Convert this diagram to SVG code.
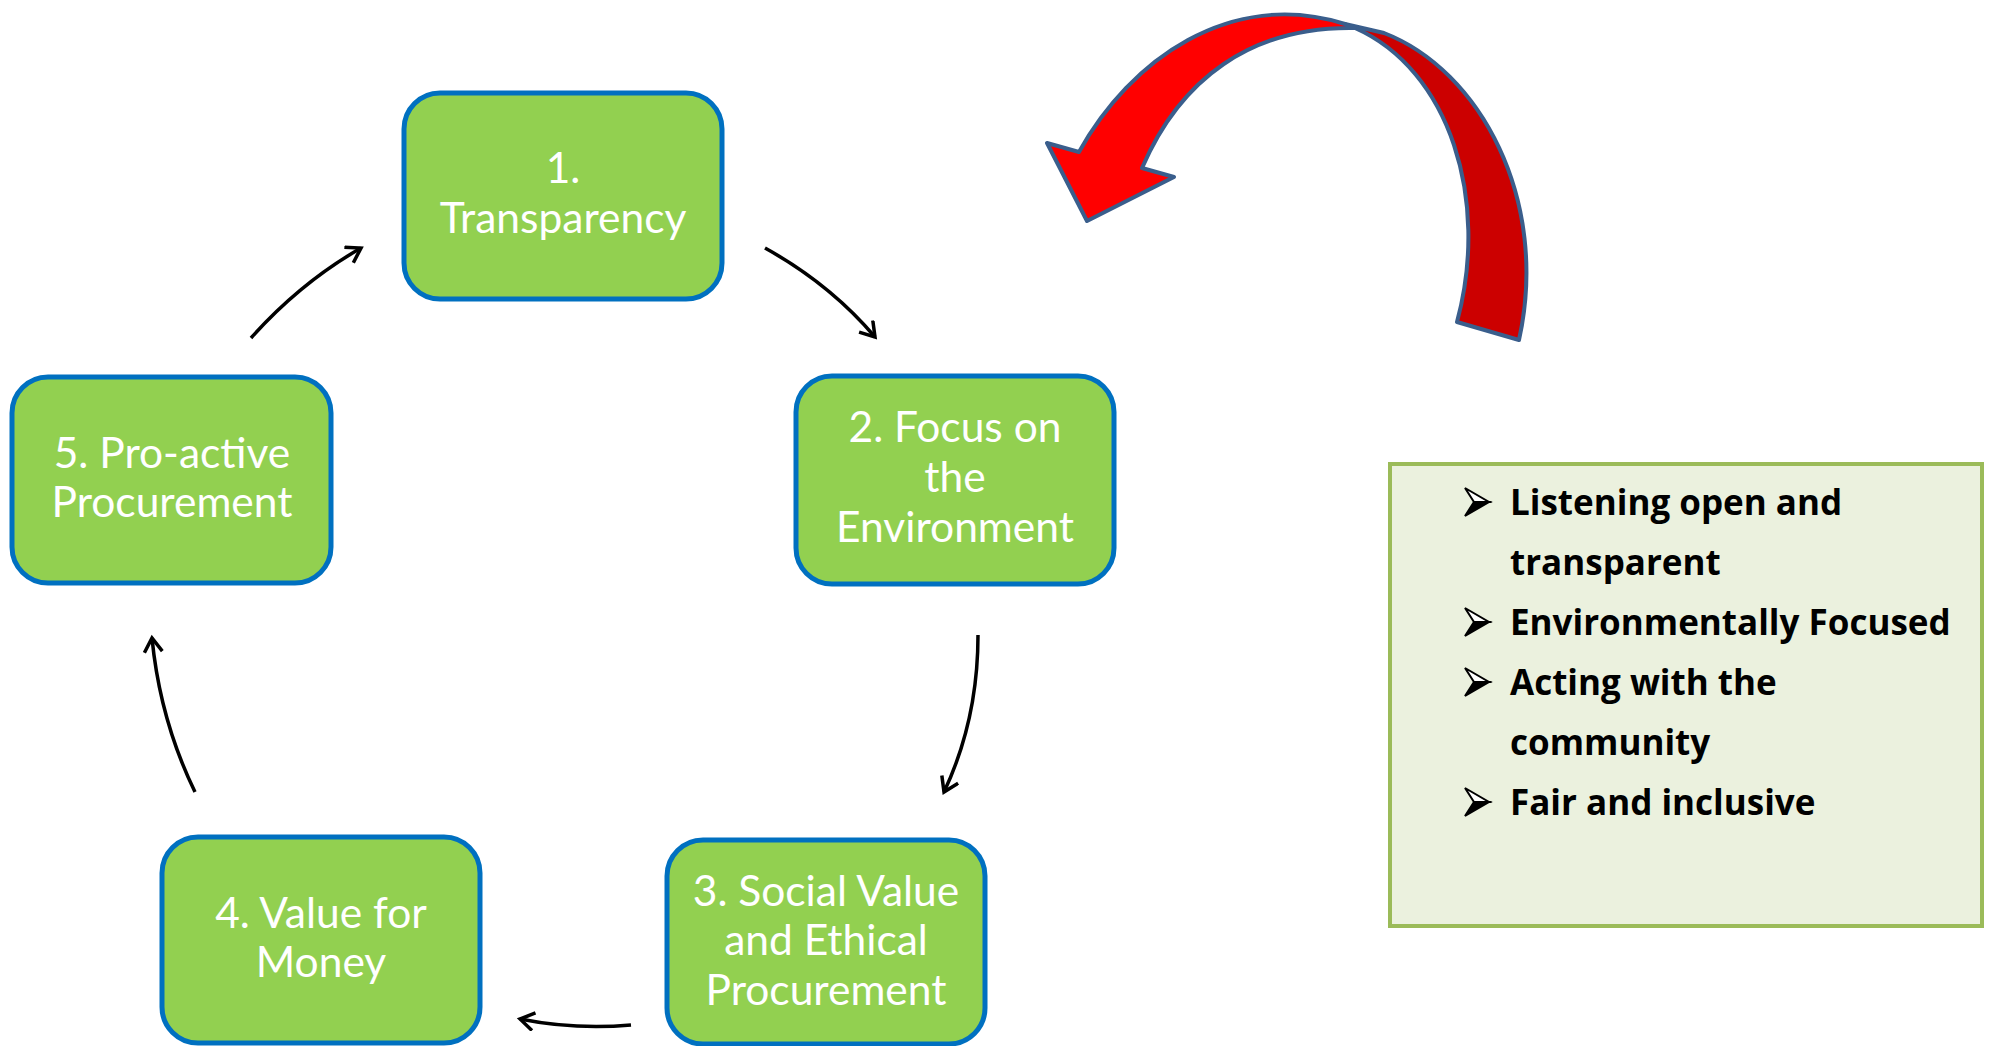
<svg xmlns="http://www.w3.org/2000/svg" xmlns:xlink="http://www.w3.org/1999/xlink" width="1993" height="1046" viewBox="0 0 1993 1046">
<style>
.node rect{fill:#92D050;stroke:#0070C0;stroke-width:5}
.node text{fill:#FFFFFF;font-family:Lato,"Open Sans","Liberation Sans",sans-serif;font-size:42.5px;text-anchor:middle}
.conn path{fill:none;stroke:#000;stroke-width:3.5}
.list text{fill:#000;font-family:"Open Sans",Lato,"Liberation Sans",sans-serif;font-weight:bold;font-size:35px}
.big{stroke:#3A5E8C;stroke-width:4;stroke-linejoin:round}
</style>
<defs>
<marker id="ah" markerUnits="userSpaceOnUse" markerWidth="30" markerHeight="30" refX="16" refY="10" orient="auto">
<path d="M2,1 L16,10 L2,19" fill="none" stroke="#000" stroke-width="3.5" stroke-linejoin="miter"/>
</marker>
<g id="bul">
<path d="M0,0 L24,14 L9,14 Z" fill="#fff" stroke="#000" stroke-width="2" stroke-linejoin="miter"/>
<path d="M9,14 L24,14 L0,28 Z" fill="#000" stroke="#000" stroke-width="2" stroke-linejoin="miter"/>
</g>
</defs>
<rect width="1993" height="1046" fill="#fff"/>

<g id="bigarrow">
<path class="big" fill="#CC0000" d="M1345,24 L1384,33 C1480,70 1550,200 1519,340 L1457,322 C1490,200 1450,70 1355,28 Z"/>
<path class="big" fill="#FF0000" d="M1079,152 C1130,60 1230,-12 1345,24 L1355,28 C1250,26 1180,80 1142,168 L1174,177 L1087,221 L1047,143 Z"/>
</g>

<g class="conn" id="connectors">
<path d="M765,248 Q830,284 875,337" marker-end="url(#ah)"/>
<path d="M978,635 Q978,720 944,792" marker-end="url(#ah)"/>
<path d="M631,1025 Q575,1030 520,1019" marker-end="url(#ah)"/>
<path d="M195,792 Q160,720 152,638" marker-end="url(#ah)"/>
<path d="M251,338 Q300,283 361,248" marker-end="url(#ah)"/>
</g>

<g class="node" id="node1">
<rect x="404" y="93" width="318" height="206" rx="36"/>
<text x="563" y="183">1.</text>
<text x="563" y="233">Transparency</text>
</g>
<g class="node" id="node2">
<rect x="796" y="376" width="318" height="208" rx="36"/>
<text x="955" y="442">2. Focus on</text>
<text x="955" y="492">the</text>
<text x="955" y="542">Environment</text>
</g>
<g class="node" id="node3">
<rect x="667" y="840" width="318" height="204" rx="36"/>
<text x="826" y="906">3. Social Value</text>
<text x="826" y="955">and Ethical</text>
<text x="826" y="1005">Procurement</text>
</g>
<g class="node" id="node4">
<rect x="162" y="837" width="318" height="206" rx="36"/>
<text x="321" y="928">4. Value for</text>
<text x="321" y="977">Money</text>
</g>
<g class="node" id="node5">
<rect x="12" y="377" width="319" height="206" rx="36"/>
<text x="172" y="468">5. Pro-active</text>
<text x="172" y="517">Procurement</text>
</g>

<g class="list" id="valuesbox">
<rect x="1390" y="464" width="592" height="462" fill="#EBF1DE" stroke="#9BBB59" stroke-width="4"/>
<use xlink:href="#bul" x="1465" y="488"/>
<use xlink:href="#bul" x="1465" y="608"/>
<use xlink:href="#bul" x="1465" y="668"/>
<use xlink:href="#bul" x="1465" y="788"/>
<text x="1510" y="515">Listening open and</text>
<text x="1510" y="575">transparent</text>
<text x="1510" y="635">Environmentally Focused</text>
<text x="1510" y="695">Acting with the</text>
<text x="1510" y="755">community</text>
<text x="1510" y="815">Fair and inclusive</text>
</g>
</svg>
